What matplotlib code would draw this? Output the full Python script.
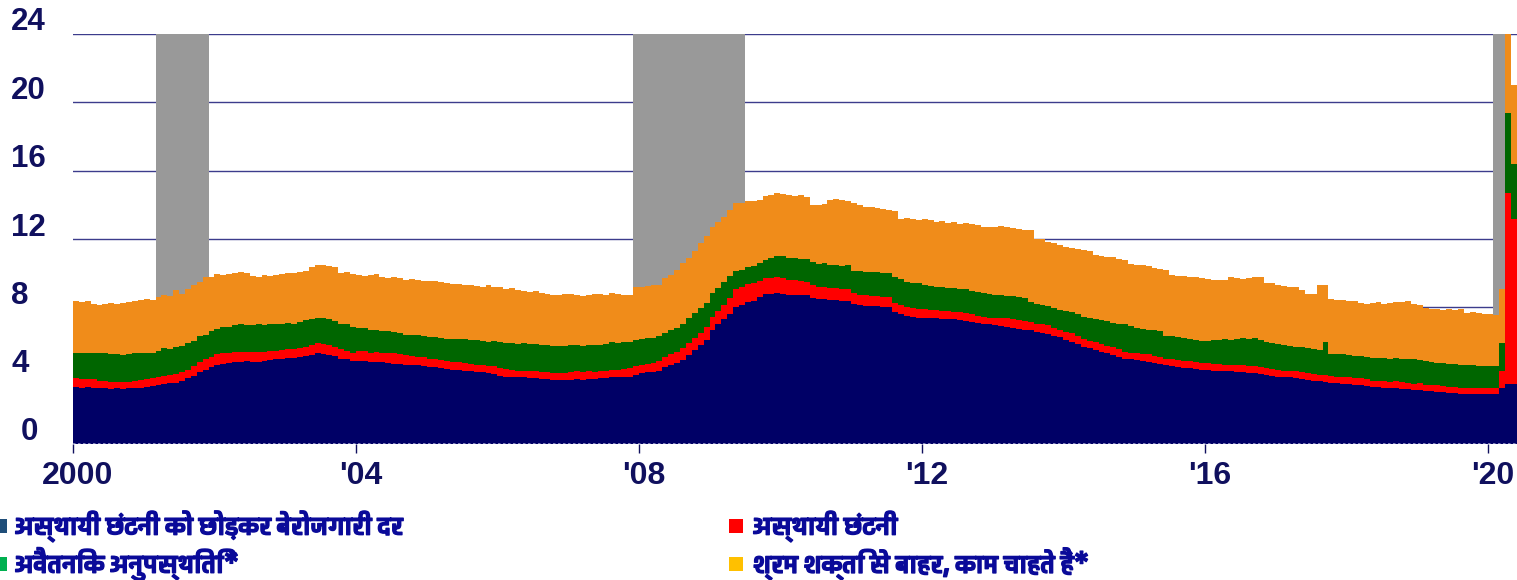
import numpy as np
import matplotlib
matplotlib.use('Agg')
import matplotlib.pyplot as plt
from matplotlib import font_manager, ft2font, transforms, patheffects
from matplotlib.patches import Rectangle

# monthly values, Jan 2000 .. May 2020 (percent)
navy = [
    3.35, 3.3, 3.35, 3.3, 3.25, 3.3, 3.2, 3.25, 3.2, 3.25, 3.25, 3.3,        # 2000
    3.35, 3.4, 3.45, 3.5, 3.55, 3.6, 3.7, 3.85, 4.0, 4.2, 4.35, 4.5,         # 2001
    4.6, 4.7, 4.75, 4.8, 4.8, 4.85, 4.8, 4.8, 4.85, 4.9, 4.95, 5.0,          # 2002
    5.05, 5.05, 5.1, 5.15, 5.2, 5.3, 5.25, 5.2, 5.15, 5.0, 4.95, 4.85,       # 2003
    4.85, 4.85, 4.8, 4.8, 4.8, 4.75, 4.7, 4.7, 4.65, 4.6, 4.6, 4.55,         # 2004
    4.5, 4.5, 4.45, 4.4, 4.35, 4.35, 4.3, 4.25, 4.2, 4.2, 4.15, 4.1,         # 2005
    4.0, 3.95, 3.95, 3.9, 3.9, 3.85, 3.85, 3.8, 3.8, 3.75, 3.75, 3.75,       # 2006
    3.75, 3.8, 3.75, 3.8, 3.8, 3.85, 3.85, 3.9, 3.9, 3.95, 3.95, 4.05,       # 2007
    4.15, 4.2, 4.2, 4.3, 4.5, 4.6, 4.75, 4.9, 5.2, 5.5, 5.8, 6.1,            # 2008
    6.7, 7.0, 7.3, 7.6, 8.0, 8.15, 8.3, 8.4, 8.6, 8.8, 8.8, 8.85,            # 2009
    8.8, 8.75, 8.75, 8.7, 8.7, 8.55, 8.5, 8.5, 8.45, 8.45, 8.4, 8.4,         # 2010
    8.2, 8.15, 8.1, 8.05, 8.05, 8.0, 8.0, 7.7, 7.6, 7.5, 7.45, 7.4,          # 2011
    7.4, 7.35, 7.35, 7.3, 7.3, 7.3, 7.25, 7.2, 7.15, 7.1, 7.05, 7.0,         # 2012
    6.95, 6.9, 6.85, 6.8, 6.75, 6.7, 6.65, 6.55, 6.5, 6.45, 6.35, 6.25,      # 2013
    6.1, 6.0, 5.85, 5.7, 5.6, 5.5, 5.4, 5.3, 5.2, 5.1, 5.0, 4.95,            # 2014
    4.9, 4.85, 4.8, 4.75, 4.7, 4.6, 4.55, 4.5, 4.45, 4.45, 4.4, 4.35,        # 2015
    4.35, 4.3, 4.3, 4.25, 4.25, 4.2, 4.2, 4.15, 4.15, 4.1, 4.05, 4.0,        # 2016
    3.95, 3.9, 3.9, 3.85, 3.8, 3.75, 3.7, 3.7, 3.65, 3.6, 3.55, 3.5,         # 2017
    3.5, 3.45, 3.45, 3.4, 3.35, 3.35, 3.3, 3.3, 3.25, 3.2, 3.2, 3.15,        # 2018
    3.15, 3.1, 3.1, 3.05, 3.05, 3.0, 3.0, 2.95, 2.95, 2.95, 2.9, 2.9,        # 2019
    2.95, 2.95, 3.3, 3.5, 3.5,                                               # 2020
]

temp_layoff = [
    0.5, 0.5, 0.45, 0.5, 0.45, 0.4, 0.45, 0.4, 0.45, 0.4, 0.45, 0.45,
    0.45, 0.45, 0.45, 0.5, 0.5, 0.5, 0.5, 0.5, 0.55, 0.6, 0.6, 0.6,
    0.65, 0.6, 0.6, 0.6, 0.6, 0.55, 0.6, 0.6, 0.55, 0.55, 0.5, 0.5,
    0.5, 0.5, 0.5, 0.55, 0.6, 0.6, 0.6, 0.6, 0.55, 0.55, 0.5, 0.5,
    0.6, 0.6, 0.55, 0.6, 0.55, 0.55, 0.6, 0.55, 0.55, 0.55, 0.5, 0.55,
    0.5, 0.5, 0.45, 0.45, 0.45, 0.45, 0.45, 0.45, 0.45, 0.45, 0.4, 0.45,
    0.45, 0.45, 0.4, 0.4, 0.4, 0.4, 0.4, 0.4, 0.4, 0.4, 0.4, 0.4,
    0.45, 0.45, 0.45, 0.45, 0.4, 0.4, 0.45, 0.45, 0.45, 0.45, 0.5, 0.5,
    0.5, 0.5, 0.55, 0.55, 0.6, 0.65, 0.65, 0.7, 0.7, 0.7, 0.7, 0.75,
    0.75, 0.8, 0.85, 0.95, 1.05, 1.05, 1.05, 1.0, 0.95, 0.9, 0.9, 0.9,
    0.9, 0.85, 0.85, 0.85, 0.8, 0.75, 0.7, 0.7, 0.7, 0.7, 0.65, 0.7,
    0.65, 0.6, 0.6, 0.6, 0.6, 0.6, 0.6, 0.55, 0.55, 0.5, 0.5, 0.5,
    0.5, 0.5, 0.5, 0.5, 0.5, 0.45, 0.45, 0.45, 0.45, 0.4, 0.4, 0.4,
    0.45, 0.5, 0.5, 0.5, 0.5, 0.5, 0.5, 0.5, 0.5, 0.5, 0.45, 0.45,
    0.45, 0.5, 0.45, 0.45, 0.45, 0.45, 0.45, 0.45, 0.45, 0.45, 0.4, 0.4,
    0.45, 0.4, 0.45, 0.4, 0.4, 0.4, 0.4, 0.4, 0.4, 0.4, 0.4, 0.4,
    0.4, 0.4, 0.4, 0.4, 0.4, 0.45, 0.4, 0.4, 0.4, 0.4, 0.4, 0.4,
    0.4, 0.4, 0.4, 0.4, 0.4, 0.4, 0.4, 0.35, 0.4, 0.4, 0.4, 0.4,
    0.4, 0.4, 0.4, 0.4, 0.35, 0.35, 0.4, 0.35, 0.45, 0.45, 0.4, 0.35,
    0.4, 0.35, 0.35, 0.4, 0.35, 0.35, 0.35, 0.35, 0.35, 0.35, 0.35, 0.35,
    0.35, 0.35, 1.0, 11.2, 9.7,
]

unpaid_absence = [
    1.45, 1.5, 1.55, 1.55, 1.6, 1.6, 1.6, 1.6, 1.55, 1.6, 1.6, 1.6,
    1.55, 1.5, 1.55, 1.6, 1.5, 1.6, 1.55, 1.55, 1.5, 1.5, 1.45, 1.5,
    1.5, 1.55, 1.5, 1.55, 1.6, 1.55, 1.55, 1.6, 1.55, 1.6, 1.55, 1.55,
    1.55, 1.5, 1.55, 1.55, 1.5, 1.5, 1.55, 1.5, 1.5, 1.5, 1.55, 1.5,
    1.35, 1.35, 1.3, 1.3, 1.25, 1.3, 1.25, 1.25, 1.2, 1.25, 1.3, 1.25,
    1.25, 1.25, 1.3, 1.3, 1.35, 1.35, 1.4, 1.4, 1.45, 1.4, 1.45, 1.5,
    1.5, 1.5, 1.55, 1.55, 1.6, 1.6, 1.6, 1.6, 1.6, 1.6, 1.6, 1.6,
    1.6, 1.55, 1.55, 1.55, 1.6, 1.55, 1.55, 1.6, 1.55, 1.55, 1.5, 1.55,
    1.5, 1.5, 1.45, 1.45, 1.4, 1.4, 1.4, 1.45, 1.45, 1.45, 1.45, 1.4,
    1.4, 1.35, 1.35, 1.3, 1.1, 1.0, 1.0, 1.0, 1.05, 1.1, 1.2, 1.25,
    1.3, 1.3, 1.3, 1.3, 1.35, 1.35, 1.35, 1.4, 1.35, 1.35, 1.35, 1.35,
    1.3, 1.35, 1.35, 1.4, 1.4, 1.4, 1.4, 1.5, 1.5, 1.5, 1.5, 1.5,
    1.4, 1.4, 1.35, 1.4, 1.35, 1.4, 1.4, 1.4, 1.35, 1.4, 1.4, 1.4,
    1.35, 1.3, 1.3, 1.35, 1.35, 1.35, 1.15, 1.15, 1.15, 1.1, 1.15, 1.15,
    1.25, 1.25, 1.3, 1.3, 1.35, 1.35, 1.4, 1.45, 1.45, 1.5, 1.6, 1.55,
    1.45, 1.5, 1.45, 1.5, 1.5, 1.35, 1.35, 1.35, 1.35, 1.3, 1.3, 1.3,
    1.3, 1.4, 1.4, 1.5, 1.45, 1.5, 1.6, 1.6, 1.65, 1.6, 1.5, 1.5,
    1.5, 1.5, 1.45, 1.45, 1.45, 1.45, 1.45, 1.45, 1.95, 1.25, 1.3, 1.35,
    1.3, 1.3, 1.3, 1.3, 1.35, 1.35, 1.35, 1.35, 1.35, 1.35, 1.35, 1.45,
    1.35, 1.4, 1.35, 1.3, 1.35, 1.35, 1.35, 1.35, 1.3, 1.3, 1.3, 1.3,
    1.25, 1.25, 1.6, 4.7, 3.2,
]

want_job = [
    3.05, 3.0, 3.0, 2.85, 2.85, 2.9, 3.0, 2.95, 3.05, 3.05, 3.05, 3.1,
    3.15, 3.1, 3.15, 3.15, 3.1, 3.3, 3.05, 3.15, 3.25, 3.2, 3.35, 3.2,
    3.2, 3.05, 3.1, 3.05, 3.05, 3.05, 2.9, 2.8, 2.95, 2.8, 2.9, 2.9,
    2.9, 2.95, 2.9, 2.85, 3.05, 3.05, 3.05, 3.1, 3.15, 2.95, 3.05, 3.1,
    3.1, 3.05, 3.25, 3.25, 3.15, 3.1, 3.2, 3.2, 3.2, 3.25, 3.2, 3.2,
    3.3, 3.3, 3.3, 3.25, 3.2, 3.2, 3.15, 3.2, 3.15, 3.15, 3.3, 3.15,
    3.25, 3.2, 3.25, 3.15, 3.05, 3.05, 3.1, 3.05, 3.0, 3.0, 3.0, 3.05,
    3.0, 2.9, 2.9, 2.95, 3.0, 3.0, 2.9, 2.9, 2.9, 2.8, 2.75, 3.1,
    3.05, 3.05, 3.1, 3.0, 3.2, 3.25, 3.4, 3.55, 3.55, 3.65, 3.8, 3.95,
    3.85, 3.85, 3.8, 3.85, 3.95, 3.9, 3.85, 3.85, 3.7, 3.7, 3.7, 3.7,
    3.65, 3.7, 3.6, 3.7, 3.6, 3.35, 3.45, 3.45, 3.8, 3.85, 3.9, 3.8,
    3.95, 3.9, 3.85, 3.8, 3.75, 3.75, 3.7, 3.9, 3.55, 3.75, 3.75, 3.7,
    3.85, 3.85, 3.8, 3.85, 3.8, 3.85, 3.8, 3.9, 3.95, 3.9, 3.85, 3.9,
    3.95, 4.05, 4.05, 4.0, 4.0, 4.0, 4.2, 3.8, 3.85, 3.8, 3.8, 3.8,
    3.75, 3.75, 3.8, 3.9, 3.9, 3.75, 3.75, 3.75, 3.85, 3.8, 3.8, 3.65,
    3.7, 3.7, 3.7, 3.65, 3.65, 3.85, 3.6, 3.6, 3.65, 3.65, 3.65, 3.65,
    3.6, 3.5, 3.5, 3.45, 3.65, 3.55, 3.45, 3.55, 3.55, 3.65, 3.45, 3.5,
    3.45, 3.45, 3.45, 3.5, 3.35, 3.2, 3.25, 3.8, 3.3, 3.25, 3.2, 3.2,
    3.2, 3.2, 3.1, 3.1, 3.2, 3.25, 3.15, 3.25, 3.25, 3.3, 3.4, 3.25,
    3.25, 3.1, 3.1, 3.15, 3.1, 3.2, 3.15, 3.25, 3.05, 3.1, 3.1, 3.05,
    3.05, 3.0, 3.2, 6.5, 4.6,
]

recessions = [('2001-03', '2001-11'), ('2007-12', '2009-06'), ('2020-02', '2020-03')]

y_ticks = [0, 4, 8, 12, 16, 20, 24]
x_ticks = ['2000-01', '2004-01', '2008-01', '2012-01', '2016-01', '2020-01']
x_labels = ['2000', "'04", "'08", "'12", "'16", "'20"]

legend_labels = ['अस्थायी छंटनी को छोड़कर बेरोजगारी दर', 'अस्थायी छंटनी',
                 'अवैतनिक अनुपस्थिति*', 'श्रम शक्ति से बाहर, काम चाहते हैं*']

bar_colors = ['#000066', '#ff0000', '#006600', '#f08c1a']
legend_colors = ['#1f4e79', '#ff0000', '#00b050', '#ffc000']
TICK_COLOR = '#10105e'
TEXT_COLOR = '#0a0a99'


def month_index(s):
    y, m = s.split('-')
    return (int(y) - 2000) * 12 + int(m) - 1


def devanagari_family():
    # any installed family with Devanagari glyphs, one with a bold face preferred
    found = {}
    for entry in font_manager.fontManager.ttflist:
        try:
            if 0x0915 not in ft2font.FT2Font(entry.fname).get_charmap():
                continue
        except Exception:
            continue
        w = entry.weight if isinstance(entry.weight, int) else 400
        found[entry.name] = max(found.get(entry.name, 0), w)
    if not found:
        return None
    return max(found, key=lambda k: found[k])


W, H = 1517, 580
fig = plt.figure(figsize=(W / 100, H / 100), dpi=100)
ax = fig.add_axes([73 / W, 1 - 444 / H, 1444 / W, 410 / H])

n = len(navy)
edges = np.arange(n + 1)
bottom = np.zeros(n)
for values, colour in zip([navy, temp_layoff, unpaid_absence, want_job], bar_colors):
    top = bottom + np.asarray(values)
    ax.stairs(top, edges, baseline=bottom, fill=True, color=colour, lw=0, zorder=3)
    bottom = top

for start, end in recessions:
    ax.axvspan(month_index(start), month_index(end) + 1, color='#999999', lw=0, zorder=2)

for v in y_ticks[1:]:
    ax.axhline(v, color='#3c3c8c', lw=1.0, zorder=1)
ax.axhline(0, color='#9a9ac8', lw=1.2, ls=(0, (1.5, 1.5)), zorder=4)

ax.set_xlim(0, n)
ax.set_ylim(0, 24)
for s in ax.spines.values():
    s.set_visible(False)

ax.set_xticks([month_index(t) for t in x_ticks])
ax.set_xticklabels(x_labels, fontsize=23, fontweight='bold', color=TICK_COLOR,
                   family='Liberation Sans')
ax.tick_params(axis='x', length=6.5, width=1, color=TICK_COLOR, pad=6.0)
shift = transforms.ScaledTranslation(5 / 100, 0, fig.dpi_scale_trans)
for lab in ax.get_xticklabels():
    lab.set_transform(lab.get_transform() + shift)
ax.tick_params(axis='y', left=False, labelleft=False)

# y labels sit a bit above their gridlines
ytrans = transforms.blended_transform_factory(fig.transFigure, ax.transData) + \
    transforms.ScaledTranslation(0, 11.5 / 100, fig.dpi_scale_trans)
for v in y_ticks:
    xpx = 21 if v == 0 else 11
    ax.text(xpx / W, v, str(v), transform=ytrans, ha='left', va='center',
            fontsize=22.5, fontweight='bold', color=TICK_COLOR, family='Liberation Sans')

# legend, two columns
deva = devanagari_family()
fams = [f for f in [deva, 'Liberation Sans', 'DejaVu Sans'] if f]
heavy = [patheffects.withStroke(linewidth=1.0, foreground=TEXT_COLOR)]
spots = [(-7, 15, 526), (729, 753, 526), (-7, 15, 564), (729, 753, 564)]
for (sx, tx, cy), label, colour in zip(spots, legend_labels, legend_colors):
    fig.add_artist(Rectangle((sx / W, 1 - (cy + 7) / H), 14 / W, 14 / H,
                             transform=fig.transFigure, color=colour, lw=0))
    fig.text(tx / W, 1 - cy / H, label, ha='left', va='center', fontsize=18,
             fontweight='bold', color=TEXT_COLOR, family=fams, path_effects=heavy)

fig.savefig('out.png', dpi=100)
